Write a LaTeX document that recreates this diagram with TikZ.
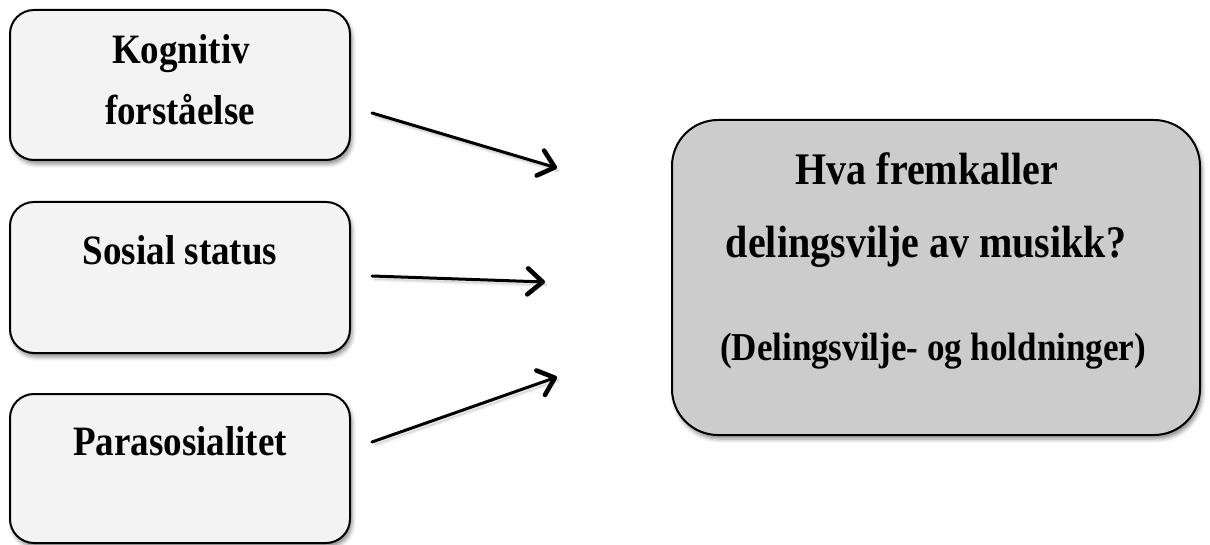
\documentclass[tikz,border=0pt]{standalone}
\usepackage{fontspec}
\setmainfont{Liberation Serif}
\usetikzlibrary{arrows.meta,shadows.blur}
\definecolor{lightbox}{HTML}{F3F3F3}
\definecolor{darkbox}{HTML}{CCCCCC}
\newcommand{\tall}[1]{\scalebox{1}[1.13]{#1}}
\tikzset{
  box/.style={draw=black, line width=2pt, rectangle, rounded corners=24pt, inner sep=0pt, fill=lightbox,
    blur shadow={shadow xshift=2pt, shadow yshift=-4pt, shadow blur radius=4pt, shadow opacity=45}},
  bigbox/.style={box, fill=darkbox, rounded corners=46pt},
  lbl/.style={anchor=base, font=\fontsize{37}{40}\selectfont\bfseries, inner sep=0pt},
  biglbl/.style={anchor=base, font=\fontsize{40}{44}\selectfont\bfseries, inner sep=0pt},
  sublbl/.style={anchor=base, font=\fontsize{35}{40}\selectfont\bfseries, inner sep=0pt},
  conn/.style={line width=3pt, line cap=round, -{Straight Barb[length=15pt,width=26pt,line width=4.6pt,round]},
    blur shadow={shadow xshift=2pt, shadow yshift=-3pt, shadow blur radius=3pt, shadow opacity=30}}
}
\begin{document}
\begin{tikzpicture}[x=1pt,y=-1pt]
\useasboundingbox (0,0) rectangle (1210,545);
\node[box, minimum width=340pt, minimum height=150pt] (b1) at (180,85) {};
\node[box, minimum width=340pt, minimum height=151pt] (b2) at (180,277.5) {};
\node[box, minimum width=340pt, minimum height=149pt] (b3) at (180,468.5) {};
\node[bigbox, minimum width=528pt, minimum height=315pt] (r) at (936,277.5) {};
\node[lbl] (t1a) at (181,64) {\tall{Kognitiv}};
\node[lbl] (t1b) at (180,125) {\tall{forståelse}};
\node[lbl] (t2) at (180,265) {\tall{Sosial status}};
\node[lbl] (t3) at (180,455) {\tall{Parasosialitet}};
\node[biglbl] (r1) at (927,185) {\tall{Hva fremkaller}};
\node[biglbl] (r2) at (926,258) {\tall{delingsvilje av musikk?}};
\node[sublbl] (r3) at (933,360) {\tall{(Delingsvilje- og holdninger)}};
\coordinate (a1s) at (372,113);
\coordinate (a1e) at (557,168);
\coordinate (a2s) at (372,276);
\coordinate (a2e) at (545,282);
\coordinate (a3s) at (372,442);
\coordinate (a3e) at (557,377);
\draw[conn] (a1s) -- (a1e);
\draw[conn] (a2s) -- (a2e);
\draw[conn] (a3s) -- (a3e);
\end{tikzpicture}
\end{document}
